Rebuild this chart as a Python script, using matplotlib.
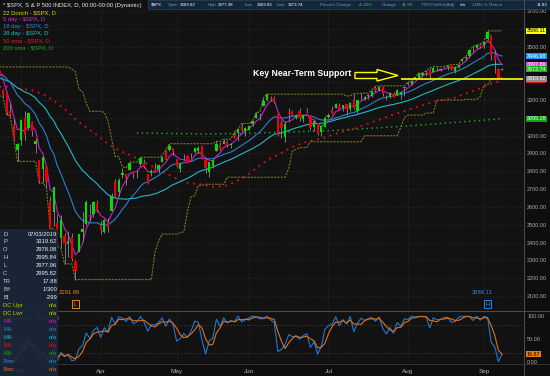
import numpy as np
import pandas as pd
import matplotlib
matplotlib.use('Agg')
import matplotlib.pyplot as plt
import matplotlib.transforms as mtransforms
from matplotlib.patches import Rectangle, Polygon
from matplotlib.lines import Line2D

plt.rcParams['font.family'] = ['Liberation Sans', 'DejaVu Sans']

# closes before the visible window (10 Dec 2019 - 20 Feb 2020), only used to warm up the studies
pre_close = [3132.52, 3141.63, 3168.57, 3168.80, 3191.45, 3192.52, 3191.14, 3205.37, 3221.22, 3224.01,
             3223.38, 3239.91, 3240.02, 3221.29, 3230.78,
             3257.85, 3234.85, 3246.28, 3237.18, 3253.05, 3274.70, 3265.35, 3288.13, 3283.15, 3289.29,
             3316.81, 3329.62, 3320.79, 3321.75, 3325.54, 3295.47, 3243.63, 3276.24, 3273.40, 3283.66, 3225.52,
             3248.92, 3297.59, 3334.69, 3345.78, 3327.71, 3352.09, 3357.75, 3379.45, 3373.94, 3380.16,
             3370.29, 3386.15, 3373.23]

# visible daily candles, 21 Feb 2020 - 9 Sep 2020
holidays = ['2020-04-10', '2020-05-25', '2020-07-03', '2020-09-07']

opens = [3360.50, 3257.61, 3238.94, 3139.90, 3062.54, 2916.90,
         2974.28, 3096.46, 3045.75, 3075.70, 2954.20, 2863.89, 2813.48, 2825.60, 2630.86, 2569.99, 2508.59,
         2425.66, 2436.50, 2393.48, 2431.94, 2290.71, 2344.44, 2457.77, 2501.29, 2555.87, 2558.98, 2614.69,
         2498.08, 2458.54, 2514.92, 2578.28, 2738.65, 2685.00, 2776.99, 2782.46, 2805.10, 2795.64, 2799.34,
         2842.43, 2845.62, 2784.81, 2787.89, 2810.42, 2812.64, 2854.65, 2909.96, 2918.46, 2930.91,
         2869.09, 2815.01, 2868.88, 2883.14, 2878.26, 2908.83, 2915.46, 2939.50, 2865.86, 2794.54, 2829.95,
         2913.86, 2948.59, 2953.63, 2969.95, 2948.05, 3004.08, 3015.65, 3046.61, 3025.17,
         3031.68, 3064.78, 3098.90, 3111.56, 3163.84, 3199.92, 3213.32, 3213.42, 3123.53, 3071.04, 2993.76,
         3131.00, 3136.13, 3101.64, 3140.29, 3094.42, 3138.70, 3114.40, 3046.60, 3073.20, 3018.59, 3050.20,
         3105.92, 3143.64, 3155.29, 3166.44, 3153.07, 3176.17, 3152.47, 3205.08, 3141.11, 3225.98, 3208.36,
         3224.21, 3224.29, 3268.52, 3254.86, 3271.64, 3218.58, 3219.84, 3234.27, 3227.22, 3231.76, 3270.45,
         3288.26, 3289.92, 3317.37, 3323.17, 3340.05, 3356.04, 3370.34, 3355.46, 3372.95, 3368.66, 3380.86,
         3387.04, 3392.51, 3360.48, 3386.01, 3418.09, 3435.95, 3449.97, 3485.14, 3494.69, 3509.73,
         3507.44, 3543.76, 3564.74, 3453.60, 3371.88, 3369.82]

highs = [3360.76, 3259.81, 3246.99, 3182.51, 3097.07, 2959.72,
         3090.96, 3136.72, 3130.97, 3083.04, 2985.93, 2863.89, 2882.59, 2825.60, 2660.95, 2711.33, 2562.98,
         2553.93, 2453.57, 2466.97, 2453.01, 2300.73, 2449.71, 2571.42, 2637.01, 2615.91, 2631.80, 2641.39,
         2522.75, 2533.22, 2538.18, 2676.85, 2756.89, 2760.75, 2818.57, 2782.46, 2851.85, 2801.88, 2806.51,
         2879.22, 2868.98, 2785.54, 2815.10, 2844.90, 2842.71, 2887.72, 2921.15, 2954.86, 2930.91,
         2869.09, 2844.24, 2898.23, 2891.11, 2901.92, 2932.16, 2944.25, 2945.82, 2874.14, 2852.80, 2865.01,
         2968.09, 2964.21, 2980.29, 2978.50, 2956.76, 3021.72, 3036.25, 3068.67, 3049.17,
         3062.18, 3081.07, 3130.94, 3128.91, 3211.72, 3233.13, 3222.71, 3223.27, 3123.53, 3088.42, 3079.76,
         3153.45, 3141.16, 3120.00, 3155.53, 3120.92, 3154.90, 3115.01, 3086.25, 3073.73, 3053.89, 3111.51,
         3128.44, 3165.81, 3182.59, 3184.15, 3171.80, 3179.78, 3186.82, 3235.32, 3200.95, 3238.28, 3220.39,
         3233.52, 3258.61, 3277.29, 3279.32, 3279.99, 3227.26, 3241.43, 3243.72, 3264.74, 3250.92, 3272.17,
         3302.73, 3306.84, 3330.77, 3351.03, 3352.54, 3363.29, 3381.01, 3387.89, 3387.24, 3378.51, 3387.59,
         3395.06, 3399.54, 3390.80, 3399.96, 3432.09, 3444.21, 3481.07, 3501.38, 3509.23, 3514.77,
         3528.03, 3588.11, 3564.85, 3479.15, 3379.97, 3377.38]

lows = [3328.45, 3214.65, 3118.77, 3108.99, 2977.39, 2855.84,
        2945.19, 2976.63, 3034.38, 2999.83, 2901.54, 2734.43, 2734.00, 2707.22, 2478.86, 2492.37, 2380.94,
        2367.04, 2280.52, 2319.78, 2295.56, 2191.86, 2344.44, 2407.53, 2500.72, 2520.02, 2545.28, 2571.15,
        2447.49, 2455.79, 2459.96, 2574.57, 2657.67, 2663.30, 2762.36, 2721.17, 2805.10, 2761.54, 2764.32,
        2830.88, 2820.43, 2727.10, 2775.95, 2794.26, 2791.76, 2852.89, 2860.71, 2912.16, 2892.47,
        2821.61, 2797.85, 2863.55, 2847.65, 2876.48, 2902.88, 2903.44, 2869.59, 2793.15, 2766.64, 2816.78,
        2913.86, 2922.35, 2953.63, 2938.57, 2933.59, 2988.17, 2969.75, 3023.40, 2998.61,
        3031.68, 3051.64, 3098.90, 3090.41, 3163.84, 3196.00, 3193.11, 3181.49, 2999.49, 2984.47, 2965.66,
        3076.06, 3108.03, 3093.51, 3083.11, 3079.39, 3127.12, 3032.13, 3024.01, 3004.63, 2999.74, 3047.83,
        3101.17, 3124.52, 3155.29, 3142.93, 3136.53, 3115.70, 3136.22, 3149.43, 3127.66, 3200.76, 3198.59,
        3205.65, 3215.16, 3247.77, 3253.10, 3222.66, 3200.05, 3214.25, 3216.17, 3227.22, 3204.13, 3220.26,
        3284.53, 3286.37, 3317.37, 3318.14, 3328.72, 3335.44, 3326.44, 3355.46, 3363.35, 3361.64, 3379.22,
        3370.15, 3369.66, 3354.69, 3379.31, 3413.13, 3425.84, 3444.15, 3468.35, 3484.32, 3493.25,
        3494.60, 3535.23, 3427.41, 3349.63, 3329.27, 3369.82]

closes = [3337.75, 3225.89, 3128.21, 3116.39, 2978.76, 2954.22,
          3090.23, 3003.37, 3130.12, 3023.94, 2972.37, 2746.56, 2882.23, 2741.38, 2480.64, 2711.02, 2386.13,
          2529.19, 2398.10, 2409.39, 2304.92, 2237.40, 2447.33, 2475.56, 2630.07, 2541.47, 2626.65, 2584.59,
          2470.50, 2526.90, 2488.65, 2663.68, 2659.41, 2749.98, 2789.82, 2761.63, 2846.06, 2783.36, 2799.55,
          2874.56, 2823.16, 2736.56, 2799.31, 2797.80, 2836.74, 2878.48, 2863.39, 2939.51, 2912.43,
          2830.71, 2842.74, 2868.44, 2848.42, 2881.19, 2929.80, 2930.32, 2870.12, 2820.00, 2852.50, 2863.70,
          2953.91, 2922.94, 2971.61, 2948.51, 2955.45, 2991.77, 3036.13, 3029.73, 3044.31,
          3055.73, 3080.82, 3122.87, 3112.35, 3193.93, 3232.39, 3207.18, 3190.14, 3002.10, 3041.31, 3066.59,
          3124.74, 3113.49, 3115.34, 3097.74, 3117.86, 3131.29, 3050.33, 3083.76, 3009.05, 3053.24, 3100.29,
          3115.86, 3130.01, 3179.72, 3145.32, 3169.94, 3152.05, 3185.04, 3155.22, 3197.52, 3226.56, 3215.57,
          3224.73, 3251.84, 3257.30, 3276.02, 3235.66, 3215.63, 3239.41, 3218.44, 3258.44, 3246.22, 3271.12,
          3294.61, 3306.51, 3327.77, 3349.16, 3351.28, 3360.47, 3333.69, 3380.35, 3373.43, 3372.85, 3381.99,
          3389.78, 3374.85, 3385.51, 3397.16, 3431.28, 3443.62, 3478.73, 3484.55, 3508.01, 3500.31,
          3526.65, 3580.84, 3455.06, 3426.96, 3331.84, 3373.74]

# 200 day sma (history behind it is not on screen)
sma200_dates = ['2020-04-16', '2020-05-01', '2020-05-15', '2020-06-01', '2020-06-15', '2020-07-01',
                '2020-07-21', '2020-08-03', '2020-08-17', '2020-09-01', '2020-09-09']
sma200_vals = [3015, 3012, 3010, 3013, 3020, 3028, 3043, 3055, 3070, 3087, 3095.28]

support_level = 3319.62
support_from = '2020-07-30'
month_names = ['Mar', 'Apr', 'May', 'Jun', 'Jul', 'Aug', 'Sep']

info_rows = [('D', '07/03/2019'), ('P', '3319.62'), ('O', '2978.08'), ('H', '2995.84'),
             ('L', '2977.96'), ('C', '2995.82'), ('TR', '17.88'), ('B#', '1/300'), ('BI', '-299'),
             ('DC Upr', 'n/a'), ('DC Lwr', 'n/a'), ('MA', 'n/a'), ('MA', 'n/a'), ('MA', 'n/a'),
             ('MA', 'n/a'), ('MA', 'n/a'), ('Stoc', 'n/a'), ('Stoc', 'n/a')]

# colours
BG = '#121212'
C_DON = '#77771f'
C_E5 = '#c81ec8'
C_E18 = '#2a7fd4'
C_E39 = '#22b8c4'
C_S50 = '#e01010'
C_S200 = '#1aa01a'
UP = '#00e000'
DN = '#f00000'

dates = pd.bdate_range('2020-02-21', '2020-09-09')
dates = dates[~dates.isin(pd.to_datetime(holidays))]

n_pre = len(pre_close)
o = np.r_[pre_close, opens]
h = np.r_[pre_close, highs]
l = np.r_[pre_close, lows]
c = np.r_[pre_close, closes]
xall = np.arange(len(c))
xv = xall[n_pre:]
pos = {d.strftime('%Y-%m-%d'): n_pre + k for k, d in enumerate(dates)}


def wma(s, n):
    w = np.arange(1, n + 1)
    return s.rolling(n).apply(lambda a: np.dot(a, w) / w.sum(), raw=True)


cs = pd.Series(c)
ma5 = wma(cs, 5)
ma18 = wma(cs, 18)
ma39 = wma(cs, 39)
sma50 = cs.rolling(50).mean()
dc_up = pd.Series(h).rolling(22).max()
dc_lo = pd.Series(l).rolling(22).min()
lo14 = pd.Series(l).rolling(14).min()
hi14 = pd.Series(h).rolling(14).max()
stoch_k = 100 * (cs - lo14) / (hi14 - lo14)
stoch_d = stoch_k.rolling(3).mean()

W, H = 550, 376


def fx(px):
    return px / W


def fy(py):
    return 1 - py / H


fig = plt.figure(figsize=(5.5, 3.76), dpi=100, facecolor='#0e0e0e')
ax = fig.add_axes([0, fy(311), fx(523), 311 / H], facecolor=BG)
ax2 = fig.add_axes([0, fy(363), fx(523), 52 / H], facecolor=BG)

xlim = (n_pre + 0.15, n_pre + 144.8)
month_x = [n_pre + k for k in range(1, len(dates)) if dates[k].month != dates[k - 1].month]

# ---- price panel
for yv in range(2100, 3800, 100):
    ax.axhline(yv, color='#2e2e2e', lw=0.6, ls=(0, (1, 2)), zorder=0)
for mx in month_x:
    ax.axvline(mx, color='#2e2e2e', lw=0.6, ls=(0, (1, 2)), zorder=0)

ax.plot(xall, dc_up, color=C_DON, lw=0.8, ls=(0, (2, 1)), zorder=2)
ax.plot(xall, dc_lo, color=C_DON, lw=0.8, ls=(0, (2, 1)), zorder=2)
ax.plot([pos[d] for d in sma200_dates], sma200_vals, color=C_S200, lw=1.1, ls=(0, (1, 2.2)), zorder=2)
ax.plot(xall, sma50, color=C_S50, lw=1.3, ls=(0, (1, 2.6)), zorder=2)
ax.plot(xall, ma39, color=C_E39, lw=0.8, zorder=3)
ax.plot(xall, ma18, color=C_E18, lw=0.8, zorder=3)
ax.plot(xall, ma5, color=C_E5, lw=0.8, zorder=3)

op, hi, lo, cl = map(np.array, (opens, highs, lows, closes))
body_lo = np.minimum(op, cl)
body_h = np.maximum(np.abs(cl - op), 1.5)
ax.vlines(xv, lo, hi, color='#8c8c8c', lw=0.6, zorder=4)
ax.bar(xv, body_h, bottom=body_lo, width=0.62, color=np.where(cl >= op, UP, DN), lw=0, zorder=5)

ax.hlines(support_level, pos[support_from], xlim[1], color='#ffff00', lw=1.2, zorder=6)

ax.set_xlim(*xlim)
ax.set_ylim(2015.6, 3761.8)

# value tags on the price scale
tags = [(dc_up.iloc[-1], '#ffff00', 'black'),
        (ma18.iloc[-1], '#1e8fff', 'white'),
        (ma5.iloc[-1], '#e23ee2', 'white'),
        (c[-1], '#13b313', 'white'),
        (sma50.iloc[-1], '#e01010', 'white'),
        (support_level, '#8a8a8a', 'white'),
        (sma200_vals[-1], '#13a313', 'white')]

# scale labels that sit under a tag are hidden, as on the platform
px_per_pt = 311 / (3761.8 - 2015.6)
ticks = [v for v in range(2100, 3800, 100)
         if all(abs(v - t[0]) * px_per_pt > 6 for t in tags)]
ax.yaxis.tick_right()
ax.set_yticks(ticks)
ax.set_yticklabels([f'{v:.2f}' for v in ticks])
ax.tick_params(axis='y', colors='#a8a8a8', labelsize=4.0, length=0, pad=3)
ax.set_xticks([])
for s in ax.spines.values():
    s.set_visible(False)

yt = ax.get_yaxis_transform()
for val, fc, tc in tags:
    ax.annotate(f'{val:.2f}', xy=(1, val), xycoords=yt, xytext=(2.5, 0), textcoords='offset points',
                ha='left', va='center', fontsize=3.9, color=tc, annotation_clip=False,
                bbox=dict(boxstyle='square,pad=0.1', fc=fc, ec='none'), zorder=8)

# high / low markers at the bottom of the price panel
bt = mtransforms.blended_transform_factory(ax.transData, ax.transAxes)
iL = int(np.argmin(lo))
iH = int(np.argmax(hi))
for idx, val, let, colr in [(iL, lo[iL], 'L', '#e8862a'), (iH, hi[iH], 'H', '#2a8ae0')]:
    ax.text(xv[idx], 0.022, let, transform=bt, color=colr, fontsize=4.3, ha='center', va='center',
            bbox=dict(boxstyle='square,pad=0.25', fc='none', ec=colr, lw=0.7), zorder=7)
    ax.annotate(f'{val:.2f}', xy=(xv[idx], 0.022), xycoords=bt, xytext=(3.5, 8.5),
                textcoords='offset points', ha='right', va='center', color=colr, fontsize=4.2, zorder=7)

# ---- stochastic panel
for yv in (20, 80):
    ax2.axhline(yv, color='#3a3a3a', lw=0.6, ls=(0, (2, 2)), zorder=0)
for mx in month_x:
    ax2.axvline(mx, color='#2e2e2e', lw=0.6, ls=(0, (1, 2)), zorder=0)
ax2.plot(xall, stoch_k, color='#1f78d0', lw=0.8, zorder=3)
ax2.plot(xall, stoch_d, color='#e0701a', lw=0.8, zorder=3)
ax2.set_xlim(*xlim)
ax2.set_ylim(-2.2, 110.9)
ax2.yaxis.tick_right()
ax2.set_yticks([0, 50, 100])
ax2.set_yticklabels(['0.00', '50.00', '100.00'])
ax2.tick_params(axis='y', colors='#a8a8a8', labelsize=4.0, length=0, pad=3)
ax2.set_xticks(month_x)
ax2.set_xticklabels([month_names[k] for k in range(len(month_x))])
ax2.tick_params(axis='x', colors='#b0b0b0', labelsize=4.6, length=0, pad=4)
for s in ax2.spines.values():
    s.set_visible(False)
ax2.annotate(f'{stoch_d.iloc[-1]:.2f}', xy=(1, stoch_d.iloc[-1]), xycoords=ax2.get_yaxis_transform(),
             xytext=(2.5, 0), textcoords='offset points', ha='left', va='center', fontsize=3.9,
             color='black', annotation_clip=False,
             bbox=dict(boxstyle='square,pad=0.1', fc='#f07a10', ec='none'), zorder=8)

# panel separators
fig.add_artist(Line2D([0, 1], [fy(311), fy(311)], color='#4a4a4a', lw=0.8, transform=fig.transFigure))
fig.add_artist(Line2D([fx(523.5), fx(523.5)], [0, 1], color='#4a4a4a', lw=0.8, transform=fig.transFigure))
fig.add_artist(Line2D([0, 1], [fy(363.5), fy(363.5)], color='#3a3a3a', lw=0.6, transform=fig.transFigure))

# title and study legend
fig.text(fx(3), fy(6), '* $SPX, S & P 500 INDEX, D, 00:00-00:00 (Dynamic)', color='#e8e8e8',
         fontsize=4.2, va='center')
legend = [('22 Donch - $SPX, D', '#d8d800'), ('5 day - $SPX, D', '#d030d0'),
          ('18 day - $SPX, D', '#2a8ae0'), ('39 day - $SPX, D', '#22c0cc'),
          ('50 sma - $SPX, D', '#e01818'), ('200 sma - $SPX, D', '#20a820')]
for k, (txt, colr) in enumerate(legend):
    fig.text(fx(3), fy(12.5 + 7.05 * k), txt, color=colr, fontsize=4.2, va='center')

# quote header bar
fig.add_artist(Rectangle((fx(148), fy(9.3)), fx(402), 9.3 / H, transform=fig.transFigure,
                         fc='#15263a', ec='#24405e', lw=0.6))
chg = closes[-1] - closes[-2]
header = [(151, '$SPX', '#ffffff'), (168, 'Open', '#7f93a8'), (180, f'{opens[-1]:.2f}', '#ffffff'),
          (208, 'High', '#7f93a8'), (218, f'{highs[-1]:.2f}', '#ffffff'), (245, 'Low', '#7f93a8'),
          (257, f'{lows[-1]:.2f}', '#ffffff'), (277, 'Last', '#7f93a8'), (288, f'{closes[-1]:.2f}', '#ffffff'),
          (320, 'Percent Change', '#7f93a8'), (358, f'{chg / closes[-2] * 100:+.2f}%', '#22e022'),
          (382, 'Change', '#7f93a8'), (402, f'{chg:.2f}', '#22e022'),
          (421, 'YTD%TotRet(Adj)', '#7f93a8'), (460, 'n/a', '#ffffff'),
          (472, '12Mo % Return', '#7f93a8'), (537, '11.83', '#ffffff')]
for px, txt, colr in header:
    fig.text(fx(px), fy(5.0), txt, color=colr, fontsize=3.2, va='center')

# annotation
fig.text(fx(302), fy(73), 'Key Near-Term Support', color='white', fontsize=6.3, weight='bold',
         ha='center', va='center')
arrow = [(355, 72.5), (377, 72.5), (377, 69.5), (398, 75.5), (377, 81), (377, 78.5), (355, 78.5)]
fig.add_artist(Polygon([(fx(a), fy(b)) for a, b in arrow], closed=True, fill=False, ec='#ffff00', lw=1.0,
                       transform=fig.transFigure))

# stochastic title (mostly under the data box)
fig.text(fx(4), fy(317.5), 'Stochastic - $SPX, D', color='#7a7a7a', fontsize=4.2, va='center')

# data box
fig.add_artist(Rectangle((0, 0), fx(58), fy(229), transform=fig.transFigure, fc='#1a2738', ec='none',
                         alpha=0.9, zorder=5))
row_cols = ['#d0d0d0'] * 9 + ['#c8c800', '#c8c800', C_E5, C_E18, C_E39, C_S50, C_S200, '#2a8ae0', '#e0701a']
for k, ((lab, val), colr) in enumerate(zip(info_rows, row_cols)):
    yy = fy(234 + 7.95 * k)
    vcol = '#f0f0f0' if k < 9 else colr
    fig.text(fx(3), yy, lab, color=colr, fontsize=4.2, va='center', zorder=6)
    fig.text(fx(57), yy, val, color=vcol, fontsize=4.2, va='center', ha='right', zorder=6)

fig.savefig('out.png', dpi=100, facecolor=fig.get_facecolor())
